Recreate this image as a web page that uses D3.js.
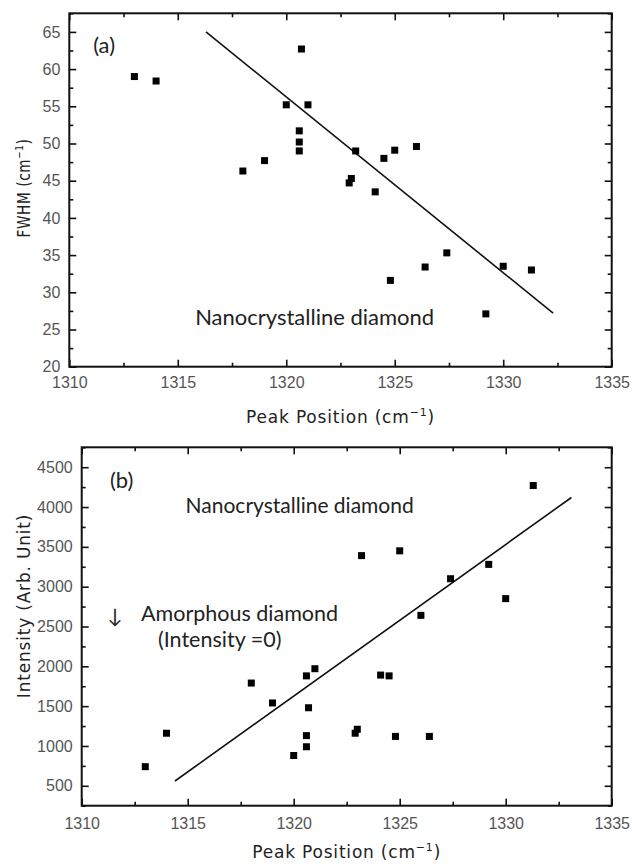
<!DOCTYPE html>
<html>
<head>
<meta charset="utf-8">
<script src="https://cdn.jsdelivr.net/npm/d3@7"></script>
<style>
  html, body { margin: 0; padding: 0; background: #fff; }
  svg { display: block; }
  .tick text { font-family: "Liberation Sans", Arial, sans-serif; font-size: 16px; fill: #555; }
  .axis-title { font-family: "DejaVu Sans", sans-serif; font-size: 17px; fill: #222; letter-spacing: 0.8px; }
  .note { font-family: Lato, "Open Sans", sans-serif; fill: #222; }
</style>
</head>
<body>
<div id="chart"></div>
<script>
// peak position (cm-1) for each sample, shared by both panels
const peakA = [1313.0, 1314.0, 1320.7, 1320.0, 1321.0, 1320.6, 1320.6, 1320.6, 1318.0, 1319.0, 1323.2, 1322.9,
               1323.0, 1324.1, 1324.5, 1325.0, 1326.0, 1324.8, 1326.4, 1327.4, 1329.2, 1330.0, 1331.3];
const fwhm  = [59.0, 58.4, 62.7, 55.2, 55.2, 51.7, 50.2, 49.0, 46.3, 47.7, 49.0, 44.7,
               45.3, 43.5, 48.0, 49.1, 49.6, 31.6, 33.4, 35.3, 27.1, 33.5, 33.0];
const fitA  = [[1316.3, 65.0], [1332.3, 27.2]];

const peakB = [1331.3, 1323.2, 1325.0, 1329.2, 1327.4, 1330.0, 1326.0, 1321.0, 1320.6, 1318.0, 1319.0, 1320.7,
               1324.1, 1324.5, 1323.0, 1322.9, 1320.6, 1320.6, 1320.0, 1324.8, 1326.4, 1314.0, 1313.0];
const intensity = [4270, 3390, 3450, 3280, 3100, 2850, 2640, 1970, 1880, 1790, 1540, 1480,
                   1890, 1880, 1210, 1160, 1130, 990, 880, 1120, 1120, 1160, 740];
const fitB  = [[1314.4, 560], [1333.1, 4120]];

const xTicks = [1310, 1315, 1320, 1325, 1330, 1335];
const xMinor = [1312.5, 1317.5, 1322.5, 1327.5, 1332.5];
const yTicksA = [20, 25, 30, 35, 40, 45, 50, 55, 60, 65];
const yMinorA = [22.5, 27.5, 32.5, 37.5, 42.5, 47.5, 52.5, 57.5, 62.5, 67.5];
const yTicksB = [500, 1000, 1500, 2000, 2500, 3000, 3500, 4000, 4500];
const yMinorB = [250, 750, 1250, 1750, 2250, 2750, 3250, 3750, 4250, 4750];

const W = 632, H = 864;
const svg = d3.select('#chart').append('svg').attr('width', W).attr('height', H);

function panel(opt) {
  const x = d3.scaleLinear().domain([1310, 1335]).range([opt.left, 611.7]);
  const y = d3.scaleLinear().domain(opt.yDomain).range([opt.bottom, opt.top]);
  const g = svg.append('g');

  // inward ticks on all four sides
  const addAxis = (axisFn, scale, vals, size, tf, labels, pad) => {
    const ax = axisFn(scale).tickValues(vals).tickSize(-size).tickPadding(pad || 0)
      .tickFormat(labels ? d3.format('d') : '');
    const a = g.append('g').attr('transform', tf).call(ax);
    a.select('.domain').remove();
    a.selectAll('line').attr('stroke', '#111').attr('stroke-width', 1.6);
    return a;
  };
  addAxis(d3.axisBottom, x, xTicks, 7, `translate(0,${opt.bottom})`, true, opt.xPad);
  addAxis(d3.axisBottom, x, xMinor, 4, `translate(0,${opt.bottom})`, false);
  addAxis(d3.axisTop, x, xTicks, 7, `translate(0,${opt.top})`, false);
  addAxis(d3.axisTop, x, xMinor, 4, `translate(0,${opt.top})`, false);
  addAxis(d3.axisLeft, y, opt.yTicks, 7, `translate(${opt.left},0)`, true, 9);
  addAxis(d3.axisLeft, y, opt.yMinor, 4, `translate(${opt.left},0)`, false);
  addAxis(d3.axisRight, y, opt.yTicks, 7, `translate(611.7,0)`, false);
  addAxis(d3.axisRight, y, opt.yMinor, 4, `translate(611.7,0)`, false);

  g.append('rect')
    .attr('x', opt.left).attr('y', opt.top)
    .attr('width', 611.7 - opt.left).attr('height', opt.bottom - opt.top)
    .attr('fill', 'none').attr('stroke', '#111').attr('stroke-width', 2);

  // fit line
  g.append('path')
    .attr('d', d3.line().x(d => x(d[0])).y(d => y(d[1]))(opt.fit))
    .attr('fill', 'none').attr('stroke', '#111').attr('stroke-width', 1.6);

  // square markers
  g.append('g').selectAll('rect')
    .data(opt.xs.map((v, i) => [v, opt.ys[i]]))
    .join('rect')
    .attr('x', d => x(d[0]) - 3.5)
    .attr('y', d => y(d[1]) - 3.5)
    .attr('width', 7).attr('height', 7)
    .attr('fill', '#000');

  // annotations
  opt.notes.forEach(n => {
    g.append('text').attr('class', 'note')
      .attr('x', x(n.at[0])).attr('y', y(n.at[1]))
      .attr('font-size', n.size)
      .text(n.text);
  });

  // axis titles
  const xt = g.append('text').attr('class', 'axis-title')
    .attr('x', (opt.left + 611.7) / 2).attr('y', opt.xTitleY)
    .attr('text-anchor', 'middle');
  xt.append('tspan').text('Peak Position (cm');
  xt.append('tspan').attr('dy', -7).attr('font-size', 11).text('−1');
  xt.append('tspan').attr('dy', 7).text(')');

  const yt = g.append('text').attr('class', 'axis-title')
    .attr('transform', `translate(${opt.yTitleX},${opt.yTitleCy}) rotate(-90) scale(${opt.yTitleSquash},1)`)
    .attr('text-anchor', 'middle');
  opt.yTitle.forEach(p => {
    const t = yt.append('tspan').text(p.t);
    if (p.sup) t.attr('dy', -7).attr('font-size', 11);
    if (p.down) t.attr('dy', 7);
  });
}

panel({
  left: 69.3, top: 13.3, bottom: 366.7, yDomain: [20, 67.5],
  yTicks: yTicksA, yMinor: yMinorA, xPad: 10,
  xs: peakA, ys: fwhm, fit: fitA,
  notes: [
    { text: '(a)', at: [1311.1, 62.2], size: 22 },
    { text: 'Nanocrystalline diamond', at: [1315.8, 25.55], size: 22 }
  ],
  xTitleY: 423,
  yTitle: [{ t: 'FWHM (cm' }, { t: '−1', sup: true }, { t: ')', down: true }],
  yTitleX: 30, yTitleCy: 188, yTitleSquash: 0.8
});

panel({
  left: 81.7, top: 447.3, bottom: 805.7, yDomain: [250, 4750],
  yTicks: yTicksB, yMinor: yMinorB, xPad: 12,
  xs: peakB, ys: intensity, fit: fitB,
  notes: [
    { text: '(b)', at: [1311.33, 4240], size: 22 },
    { text: 'Nanocrystalline diamond', at: [1314.9, 3926], size: 21 },
    { text: '↓', at: [1311.2, 2547], size: 20 },
    { text: 'Amorphous diamond', at: [1312.8, 2572], size: 21.5 },
    { text: '(Intensity =0)', at: [1313.6, 2246], size: 21.5 }
  ],
  xTitleY: 858,
  yTitle: [{ t: 'Intensity (Arb. Unit)' }],
  yTitleX: 30, yTitleCy: 606, yTitleSquash: 1
});
</script>
</body>
</html>
